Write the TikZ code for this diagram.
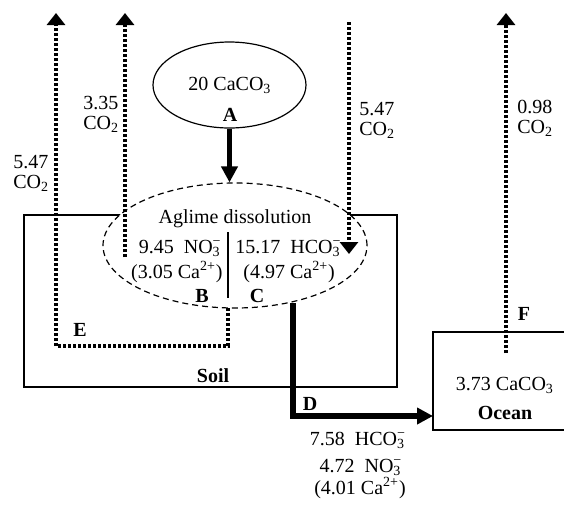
\documentclass[tikz,border=0pt]{standalone}
\usepackage{fontspec}
\setmainfont{Liberation Serif}
\usetikzlibrary{arrows.meta,shapes.geometric}

% 化学式上下标
\newcommand{\ionsub}[2]{\ooalign{\textsuperscript{#2}\cr\textsubscript{#1}\cr}}
\newcommand{\mns}{\char"2212}

\tikzset{
    txt/.style={inner sep=0pt, font=\fontsize{10}{10}\selectfont},
    tag/.style={inner sep=0pt, font=\fontsize{10}{10}\selectfont\bfseries},
    box/.style={draw, line width=0.6pt, inner sep=0pt},
    co2flow/.style={line width=2.3pt, dash pattern=on 1.5pt off 1pt,
        -{Triangle[width=9pt,length=6pt]}},
    solflow/.style={line width=2.4pt, -{Triangle[width=8pt,length=8pt]}},
    co2loop/.style={line width=2.3pt, dash pattern=on 1.5pt off 1pt}
}

\begin{document}
\begin{tikzpicture}[x=0.5pt,y=-0.5pt]
    \useasboundingbox (0,0) rectangle (564,505);

    % 土壤与海洋方框
    \node[box, minimum width=186.5pt, minimum height=86pt] (soil) at (210.5,301) {};
    \node[box, minimum width=66.5pt, minimum height=49pt] (ocean) at (499.5,381) {};
    \node[tag] (soil-t) at (213,376) {Soil};
    \node[txt] (ocean-c) at (505,385) {3.73 CaCO\textsubscript{3}};
    \node[tag] (ocean-t) at (505,413) {Ocean};

    % 石灰椭圆与溶解椭圆
    \node[ellipse, draw, line width=0.6pt, inner sep=0pt,
          minimum width=76.5pt, minimum height=43pt] (lime) at (229.5,85) {};
    \node[txt] (lime-t) at (230,85) {20 CaCO\textsubscript{3}};
    \node[tag] (tag-A) at (230,115) {A};
    \node[ellipse, draw, fill=white, line width=0.6pt, dash pattern=on 3pt off 2pt,
          inner sep=0pt, minimum width=132pt, minimum height=62.5pt] (diss) at (235,245.5) {};
    \node[txt] (diss-t) at (235,219) {Aglime dissolution};

    % 溶解产物
    \node[txt, anchor=east] (no3) at (222,248) {9.45~~NO\ionsub{3}{\mns}};
    \node[txt, anchor=east] (ca-b) at (223,272) {(3.05 Ca\textsuperscript{2+})};
    \node[txt, anchor=west] (hco3) at (235,248) {15.17~~HCO\ionsub{3}{\mns}};
    \node[txt, anchor=west] (ca-c) at (243,272) {(4.97 Ca\textsuperscript{2+})};
    \node[tag] (tag-B) at (202,296) {B};
    \node[tag] (tag-C) at (257,296) {C};
    \coordinate (sep-top) at (228,232);
    \coordinate (sep-bot) at (228,298);
    \draw[line width=0.6pt] (sep-top) -- (sep-bot);

    % A：石灰进入土壤
    \draw[solflow] (lime.south) -- (lime.south |- diss.north);

    % D：流向海洋
    \coordinate (d-start) at (293,303);
    \coordinate (d-end) at (433,416);
    \draw[solflow, line width=2.6pt] (d-start) |- (d-end);
    \node[tag] (tag-D) at (310,404) {D};
    \node[txt] (flux-hco3) at (358,440) {7.58~~HCO\ionsub{3}{\mns}};
    \node[txt] (flux-no3) at (361,467) {4.72~~NO\ionsub{3}{\mns}};
    \node[txt] (flux-ca) at (360,488) {(4.01 Ca\textsuperscript{2+})};

    % E：CO2 释放回路
    \coordinate (e-start) at (228,308);
    \coordinate (e-corner) at (56,346);
    \coordinate (e-top) at (56,13);
    \draw[co2loop] (e-start) |- (e-corner);
    \draw[co2flow] (e-corner) -- (e-top);
    \node[tag] (tag-E) at (80,330) {E};
    \node[txt, align=left, anchor=west] (co2-e) at (13,173) {5.47\\CO\textsubscript{2}};

    % 溶解产生的 CO2
    \coordinate (b-start) at (125,257);
    \coordinate (b-top) at (125,13);
    \draw[co2flow] (b-start) -- (b-top);
    \node[txt, align=left, anchor=west] (co2-b) at (83,114) {3.35\\CO\textsubscript{2}};

    % 大气 CO2 进入
    \coordinate (c-top) at (349,22);
    \coordinate (c-end) at (349,254);
    \draw[co2flow] (c-top) -- (c-end);
    \node[txt, align=left, anchor=west] (co2-c) at (359,120) {5.47\\CO\textsubscript{2}};

    % F：海洋释放 CO2
    \coordinate (f-start) at (506,353);
    \coordinate (f-top) at (506,13);
    \draw[co2flow] (f-start) -- (f-top);
    \node[tag] (tag-F) at (524,314) {F};
    \node[txt, align=left, anchor=west] (co2-f) at (517,118) {0.98\\CO\textsubscript{2}};
\end{tikzpicture}
\end{document}
